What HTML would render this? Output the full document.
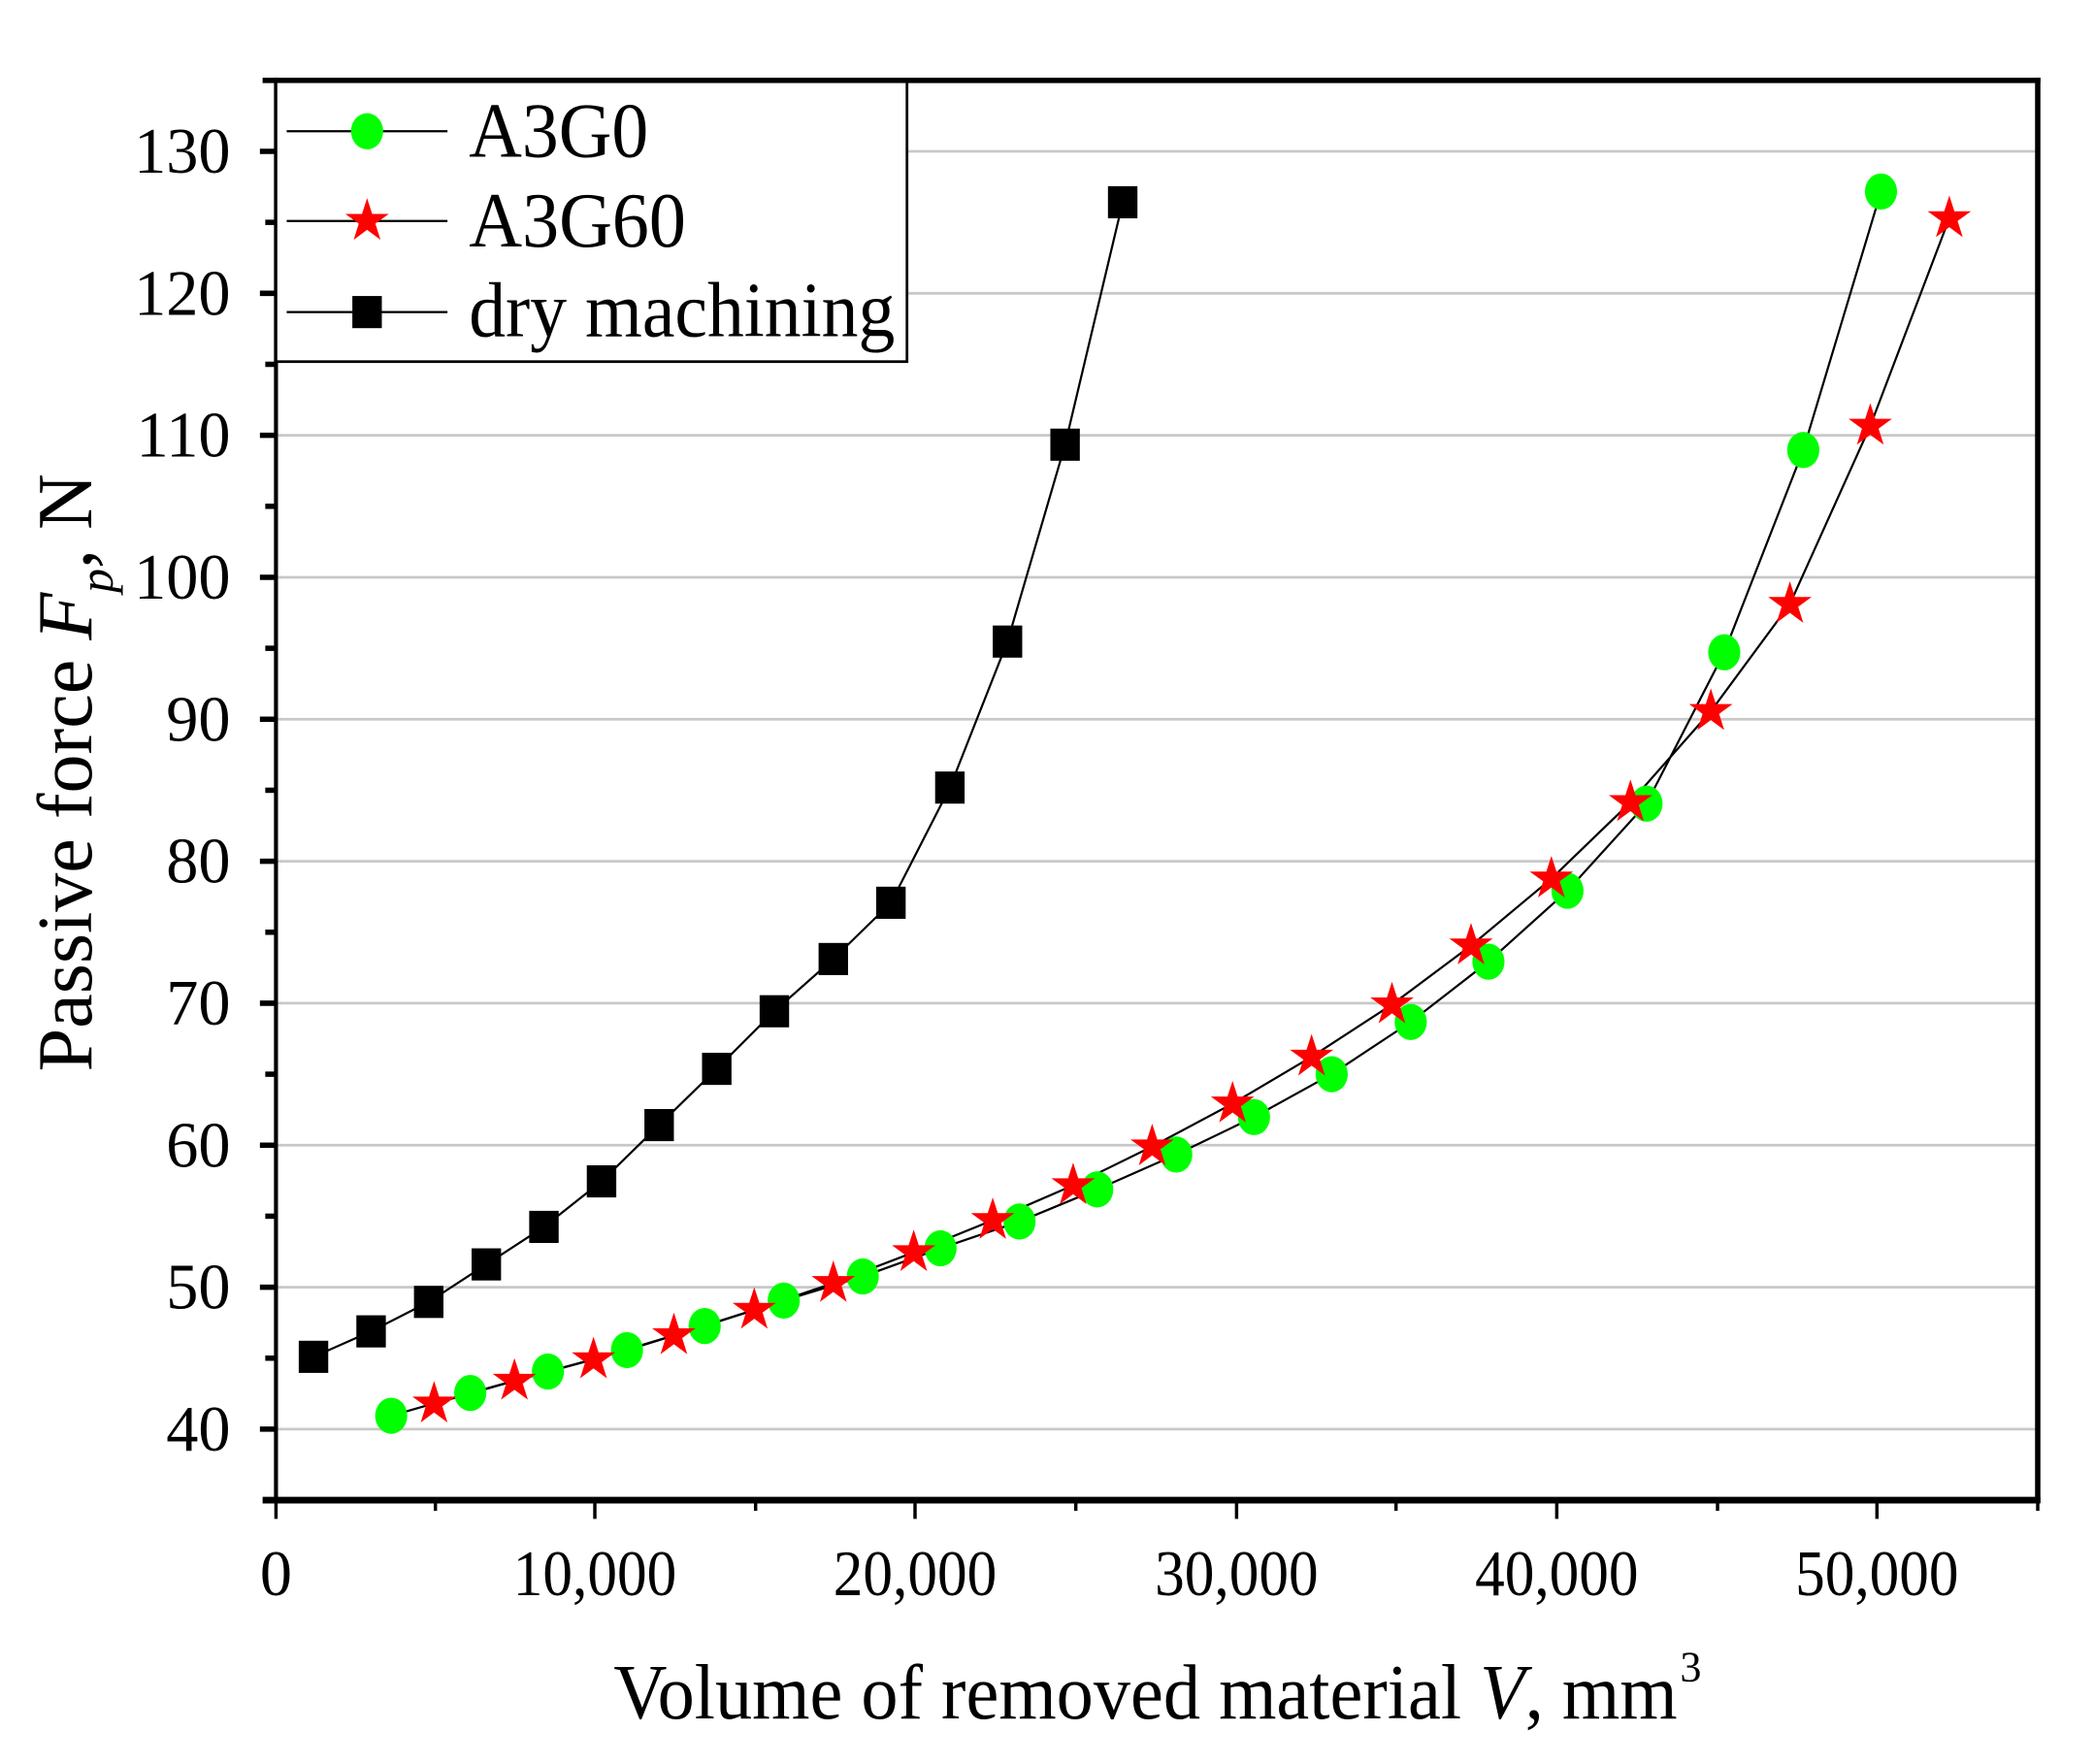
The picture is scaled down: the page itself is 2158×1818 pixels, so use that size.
<!DOCTYPE html>
<html><head><meta charset="utf-8"><style>
html,body{margin:0;padding:0;background:#fff;}
svg{display:block;}
text{font-family:"Liberation Serif",serif;fill:#000;}
</style></head><body>
<svg width="2158" height="1818" viewBox="0 0 1563 1317" preserveAspectRatio="none" xmlns="http://www.w3.org/2000/svg">
<rect width="1563" height="1317" fill="#fff"/>
<g stroke="#c8c8c8" stroke-width="2">
<line x1="206" x2="1521" y1="113" y2="113"/><line x1="206" x2="1521" y1="219" y2="219"/>
<line x1="206" x2="1521" y1="325" y2="325"/><line x1="206" x2="1521" y1="431" y2="431"/>
<line x1="206" x2="1521" y1="537" y2="537"/><line x1="206" x2="1521" y1="643" y2="643"/>
<line x1="206" x2="1521" y1="749" y2="749"/><line x1="206" x2="1521" y1="855" y2="855"/>
<line x1="206" x2="1521" y1="961" y2="961"/><line x1="206" x2="1521" y1="1067" y2="1067"/>
</g>
<g stroke="#000" fill="none">
<line x1="196" x2="1523" y1="60" y2="60" stroke-width="4"/>
<line x1="1521" x2="1521" y1="58" y2="1122" stroke-width="4"/>
<line x1="206" x2="206" y1="58" y2="1122" stroke-width="3"/>
<line x1="196" x2="1523" y1="1120" y2="1120" stroke-width="5"/>
</g>
<g stroke="#000" stroke-width="4">
<line x1="194" x2="206" y1="113" y2="113"/><line x1="194" x2="206" y1="219" y2="219"/>
<line x1="194" x2="206" y1="325" y2="325"/><line x1="194" x2="206" y1="431" y2="431"/>
<line x1="194" x2="206" y1="537" y2="537"/><line x1="194" x2="206" y1="643" y2="643"/>
<line x1="194" x2="206" y1="749" y2="749"/><line x1="194" x2="206" y1="855" y2="855"/>
<line x1="194" x2="206" y1="961" y2="961"/><line x1="194" x2="206" y1="1067" y2="1067"/>
<line x1="198" x2="206" y1="166" y2="166"/><line x1="198" x2="206" y1="272" y2="272"/>
<line x1="198" x2="206" y1="378" y2="378"/><line x1="198" x2="206" y1="484" y2="484"/>
<line x1="198" x2="206" y1="590" y2="590"/><line x1="198" x2="206" y1="696" y2="696"/>
<line x1="198" x2="206" y1="802" y2="802"/><line x1="198" x2="206" y1="908" y2="908"/>
<line x1="198" x2="206" y1="1014" y2="1014"/>
</g>
<g stroke="#000" stroke-width="2.5">
<line y1="1120" y2="1134" x1="206" x2="206"/><line y1="1120" y2="1134" x1="444" x2="444"/>
<line y1="1120" y2="1134" x1="683" x2="683"/><line y1="1120" y2="1134" x1="923" x2="923"/>
<line y1="1120" y2="1134" x1="1162" x2="1162"/><line y1="1120" y2="1134" x1="1401" x2="1401"/>
<line y1="1120" y2="1128" x1="325" x2="325"/><line y1="1120" y2="1128" x1="564" x2="564"/>
<line y1="1120" y2="1128" x1="803" x2="803"/><line y1="1120" y2="1128" x1="1042" x2="1042"/>
<line y1="1120" y2="1128" x1="1282" x2="1282"/><line y1="1120" y2="1128" x1="1521" x2="1521"/>
</g>
<g font-size="48" text-anchor="end">
<text x="172" y="129">130</text><text x="172" y="235">120</text><text x="172" y="341">110</text>
<text x="172" y="447">100</text><text x="172" y="553">90</text><text x="172" y="659">80</text>
<text x="172" y="765">70</text><text x="172" y="871">60</text><text x="172" y="977">50</text>
<text x="172" y="1083">40</text>
</g>
<g font-size="48" text-anchor="middle">
<text x="206" y="1191">0</text>
<text x="444" y="1191" textLength="122" lengthAdjust="spacingAndGlyphs">10,000</text>
<text x="683" y="1191" textLength="122" lengthAdjust="spacingAndGlyphs">20,000</text>
<text x="923" y="1191" textLength="122" lengthAdjust="spacingAndGlyphs">30,000</text>
<text x="1162" y="1191" textLength="122" lengthAdjust="spacingAndGlyphs">40,000</text>
<text x="1401" y="1191" textLength="122" lengthAdjust="spacingAndGlyphs">50,000</text>
</g>
<text x="458" y="1283" font-size="58" textLength="794" lengthAdjust="spacingAndGlyphs">Volume of removed material <tspan font-style="italic">V</tspan>, mm</text>
<text x="1254" y="1255" font-size="32">3</text>
<text transform="translate(68,385) rotate(-90)" font-size="58" text-anchor="end" textLength="415" lengthAdjust="spacingAndGlyphs" x="0" y="0" dx="0"></text>
<g transform="translate(68,800) rotate(-90)">
<text x="0" y="0" font-size="58">Passive force <tspan font-style="italic">F</tspan><tspan font-style="italic" font-size="36" dy="16">p</tspan><tspan dy="-16">, N</tspan></text>
</g>
<g fill="none" stroke="#000" stroke-width="1.6">
<polyline points="234,1013 277,994 320,972 363,944 406,916 449,882 492,840 535,798 578,755 622,716 665,674 709,588 752,479 795,332 838,151"/>
<polyline points="292,1057 351,1040 409,1024 468,1008 526,990 585,971 644,953 702,932 761,912 819,888 878,862 936,834 994,802 1053,763 1111,718 1170,665 1229,600 1287,487 1346,336 1404,143"/>
<polyline points="324,1048 384,1031 443,1015 503,997 563,978 622,958 682,935 741,911 801,885 860,856 920,824 979,789 1039,750 1098,706 1158,656 1217,599 1277,531 1336,451 1396,318 1455,163"/>
</g>
<defs>
<rect id="sq" x="-11" y="-12" width="22" height="24" fill="#000"/>
<ellipse id="ci" rx="12" ry="13.5" fill="#00ff00"/>
<polygon id="st" fill="#ff0000" points="0,-17 3.8,-5.3 16.2,-5.3 6.2,2 10,14 0,6.6 -10,14 -6.2,2 -16.2,-5.3 -3.8,-5.3"/>
</defs>
<g>
<use href="#sq" x="234" y="1013"/><use href="#sq" x="277" y="994"/><use href="#sq" x="320" y="972"/><use href="#sq" x="363" y="944"/><use href="#sq" x="406" y="916"/><use href="#sq" x="449" y="882"/><use href="#sq" x="492" y="840"/><use href="#sq" x="535" y="798"/><use href="#sq" x="578" y="755"/><use href="#sq" x="622" y="716"/><use href="#sq" x="665" y="674"/><use href="#sq" x="709" y="588"/><use href="#sq" x="752" y="479"/><use href="#sq" x="795" y="332"/><use href="#sq" x="838" y="151"/>
</g>
<g>
<use href="#ci" x="292" y="1057"/><use href="#ci" x="351" y="1040"/><use href="#ci" x="409" y="1024"/><use href="#ci" x="468" y="1008"/><use href="#ci" x="526" y="990"/><use href="#ci" x="585" y="971"/><use href="#ci" x="644" y="953"/><use href="#ci" x="702" y="932"/><use href="#ci" x="761" y="912"/><use href="#ci" x="819" y="888"/><use href="#ci" x="878" y="862"/><use href="#ci" x="936" y="834"/><use href="#ci" x="994" y="802"/><use href="#ci" x="1053" y="763"/><use href="#ci" x="1111" y="718"/><use href="#ci" x="1170" y="665"/><use href="#ci" x="1229" y="600"/><use href="#ci" x="1287" y="487"/><use href="#ci" x="1346" y="336"/><use href="#ci" x="1404" y="143"/>
</g>
<g>
<use href="#st" x="324" y="1048"/><use href="#st" x="384" y="1031"/><use href="#st" x="443" y="1015"/><use href="#st" x="503" y="997"/><use href="#st" x="563" y="978"/><use href="#st" x="622" y="958"/><use href="#st" x="682" y="935"/><use href="#st" x="741" y="911"/><use href="#st" x="801" y="885"/><use href="#st" x="860" y="856"/><use href="#st" x="920" y="824"/><use href="#st" x="979" y="789"/><use href="#st" x="1039" y="750"/><use href="#st" x="1098" y="706"/><use href="#st" x="1158" y="656"/><use href="#st" x="1217" y="599"/><use href="#st" x="1277" y="531"/><use href="#st" x="1336" y="451"/><use href="#st" x="1396" y="318"/><use href="#st" x="1455" y="163"/>
</g>
<rect x="206" y="61" width="471" height="209" fill="#fff" stroke="#000" stroke-width="2"/>
<g stroke="#000" stroke-width="1.6">
<line x1="214" x2="334" y1="98" y2="98"/><line x1="214" x2="334" y1="165" y2="165"/><line x1="214" x2="334" y1="233" y2="233"/>
</g>
<use href="#ci" x="274" y="98"/>
<use href="#st" x="274" y="165"/>
<use href="#sq" x="274" y="233"/>
<g font-size="58">
<text x="350" y="117" textLength="134" lengthAdjust="spacingAndGlyphs">A3G0</text>
<text x="350" y="184" textLength="162" lengthAdjust="spacingAndGlyphs">A3G60</text>
<text x="350" y="251" textLength="318" lengthAdjust="spacingAndGlyphs">dry machining</text>
</g>
</svg>
</body></html>
